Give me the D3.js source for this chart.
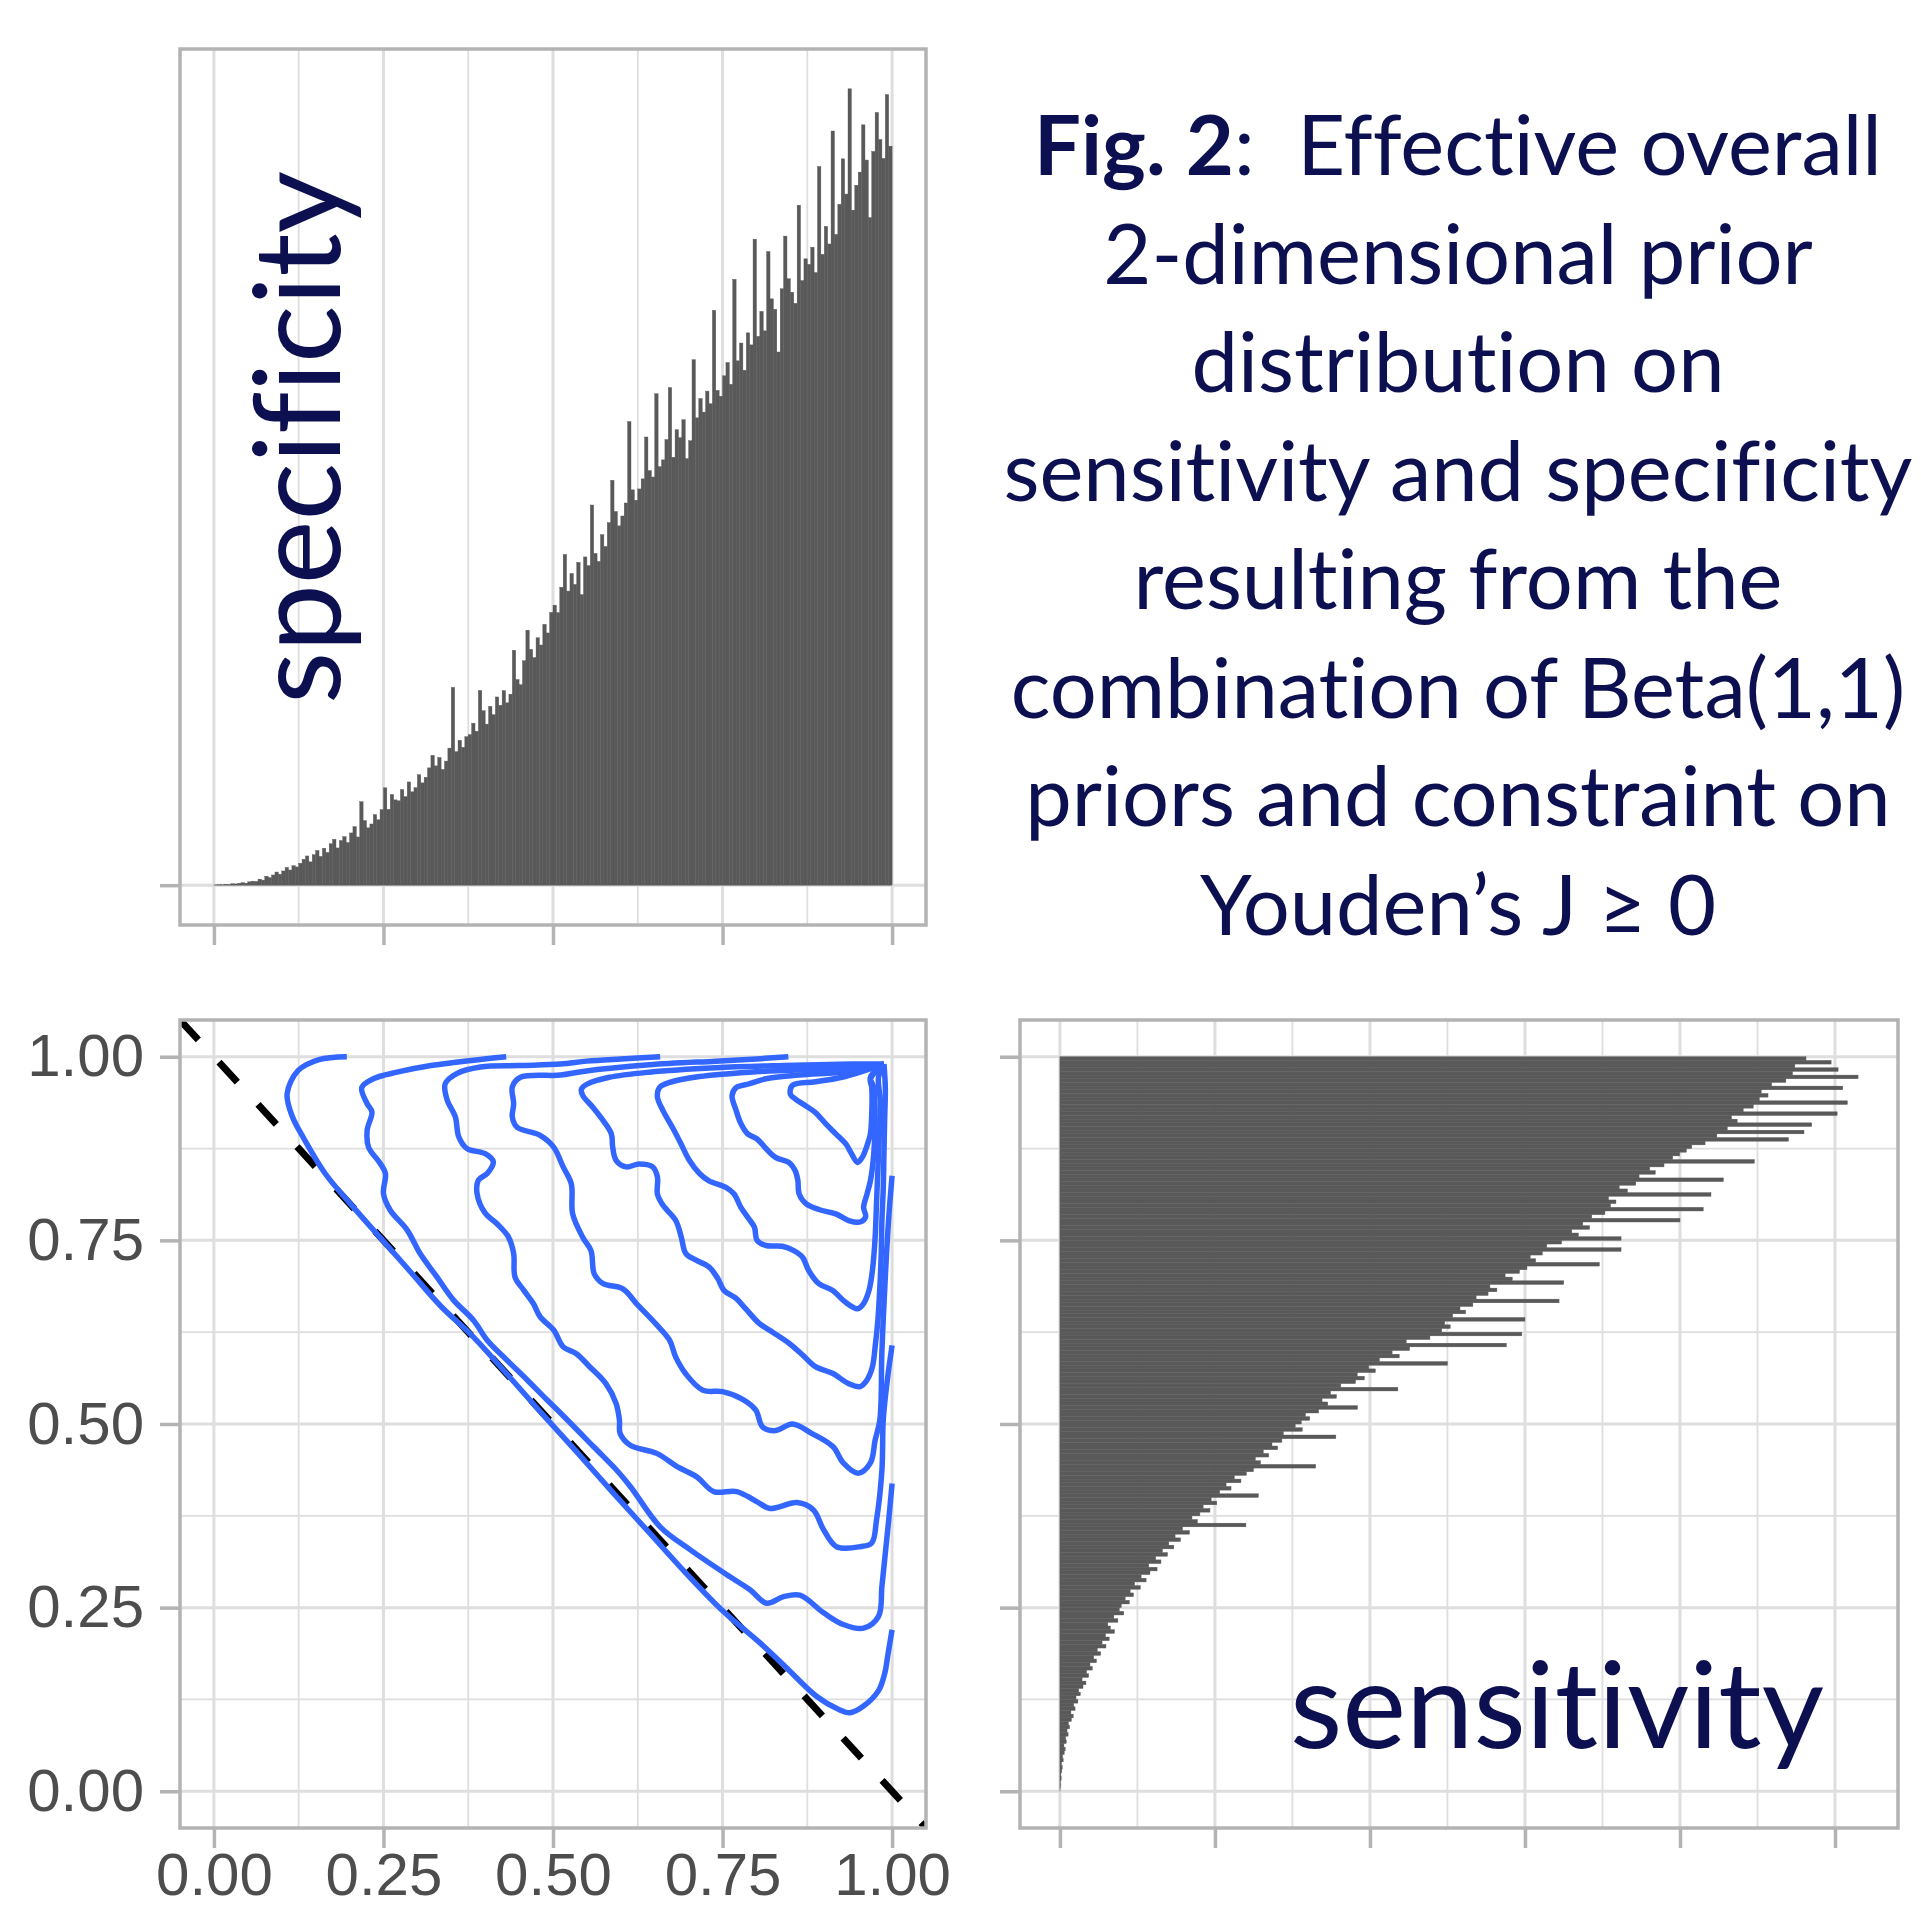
<!DOCTYPE html>
<html>
<head>
<meta charset="utf-8">
<script src="https://cdn.jsdelivr.net/npm/d3@7"></script>
<style>
  body { margin: 0; background: #fff; }
  text { font-variant-ligatures: none; font-feature-settings: "liga" 0, "clig" 0; }
  .axis path { display: none; }
  .axis line { stroke: #b3b3b3; stroke-width: 3.5px; }
  .axis text { font-family: "Liberation Sans", Arial, sans-serif; font-size: 60px; fill: #4d4d4d; }
</style>
</head>
<body>
<div id="chart"></div>
<script>
// unit-interval ticks shared by specificity / sensitivity
var unitTicks = [0, 0.25, 0.5, 0.75, 1];
var unitMinor = [0.125, 0.375, 0.625, 0.875];
var countTicks = [0, 100, 200, 300, 400, 500];
var countMinor = [50, 150, 250, 350, 450];

// histogram counts, 200 bins on [0,1]
var specCounts = [
  0.2, 0.3, 0.3, 0.6, 0.5, 0.9, 0.8, 1.2, 1.6, 1.3, 2.2, 2.6, 2.4, 3.9, 3.3, 5.8, 4.9, 6.6, 8.5, 7.1, 9.2, 11.5, 9.8, 12.6, 11.8,
  14.2, 16.8, 18.9, 15.1, 19.7, 22.4, 18.6, 23.9, 21.2, 26.8, 29.7, 24.1, 28.9, 31.4, 27.6, 33.8, 37.9, 31.2, 54, 41.8, 37.1, 39.6, 45.7, 42.3, 48.9,
  63, 49.1, 58.7, 55.2, 54.6, 61.9, 57.3, 66.8, 60.4, 63.1, 71.5, 66.2, 69.8, 75.9, 84, 77.2, 82.6, 74.9, 80.3, 88.7, 128, 86.4, 93.8, 89.2, 96.1,
  97.4, 104.8, 99.6, 126, 112.9, 104.2, 115.7, 110.3, 121.8, 116.4, 125.9, 118, 123.6, 152, 133.1, 129.7, 145.2, 165, 152.6, 147.3, 160.1, 155.4, 168.8, 163.2, 176.5,
  181.2, 176.4, 192.8, 214, 190.3, 201.7, 194.6, 208.9, 188, 212.4, 206.8, 246, 214.7, 209.5, 226.8, 219.2, 234.6, 262, 241.8, 232.5, 238.9, 247.3, 300, 255.8, 249.1,
  256.4, 262.9, 290, 268.3, 264.1, 318, 270.8, 275.2, 288.4, 322, 276.9, 294.7, 289.5, 301.2, 276, 287.6, 340, 302.4, 314.9, 306.1, 319.7, 311.5, 372, 320.2, 316.4,
  329.6, 338.2, 324.1, 392, 339.3, 350.8, 333.2, 357.4, 349.6, 418, 355.1, 371.3, 358.7, 410, 379.4, 372.6, 345, 385.9, 420, 392.4, 383.7, 376.5, 440, 391.2, 405.3,
  401.7, 412.8, 396.4, 465, 408.2, 426.3, 414.9, 488, 421.1, 440.6, 470, 447.2, 515.3, 436.8, 452.9, 461.4, 492, 469.2, 432, 474.8, 500, 482.5, 470.3, 511.6, 478.2
];
var sensCounts = [
  0.1, 0.4, 0.3, 0.8, 0.6, 1.1, 1.5, 1.0, 2.1, 1.7, 2.8, 3.4, 2.6, 4.1, 3.7, 5.3, 4.6, 6.2, 5.5, 7.4, 8.6, 7.1, 9.8, 8.9, 11.6,
  10.4, 13.2, 12.1, 14.9, 16.8, 14.3, 18.5, 17.2, 20.9, 19.4, 23.6, 21.8, 26.3, 24.1, 29.7, 27.2, 31.8, 29.4, 35.2, 32.6, 30.9, 37.4, 34.8, 41.2, 38.3,
  39.6, 44.8, 42.1, 47.5, 45.3, 51.9, 48.2, 55.6, 52.4, 58.1, 62.7, 57.3, 65.2, 61.8, 69.4, 66.1, 73.5, 70.2, 77.8, 74.3, 83.6, 79.1, 120, 88.7, 85.2,
  90.3, 96.8, 92.4, 101.2, 97.6, 128, 103.1, 110.4, 107.2, 116.8, 112.5, 120.3, 124.9, 165, 129.4, 126.1, 134.7, 131.2, 140.5, 136.8, 143.2, 178, 144.1, 156.3, 151.8,
  155.7, 161.2, 158.4, 166.9, 192, 172.8, 169.1, 178.4, 174.6, 218, 181.2, 190.7, 196.4, 191.8, 203.5, 199.2, 250, 206.1, 218.9, 214.3, 225.6, 288, 223.4, 238.7, 298,
  246.3, 251.8, 248.2, 300, 253.4, 261.7, 258.1, 266.4, 322, 268.5, 276.2, 281.9, 277.4, 325, 291.8, 287.2, 296.5, 301.3, 348, 306.9, 303.4, 311.2, 362, 314.1, 323.6,
  362, 334.5, 330.2, 341.7, 337.3, 400, 343.1, 351.6, 415, 355.2, 358.7, 353.9, 420, 366.1, 360.8, 371.5, 428, 373.6, 384.1, 380.5, 389.7, 448, 395.3, 399.8, 404.1,
  407.6, 416.2, 470, 423.8, 480, 430.5, 485, 436.9, 433.2, 501.4, 440.8, 447.3, 508, 451.2, 456.8, 452.4, 505, 459.1, 468.3, 514.9, 472.6, 502, 474.1, 497.5, 481.3
];

// 2d density contours, [specificity, sensitivity]
var contour1 = [[.196,1.0],[.155,.996],[.124,.981],[.108,.95],[.115,.920],[.133,.888],[.164,.841],[.200,.801],[.245,.754],[.290,.707],[.335,.660],[.381,.620],[.435,.565],[.480,.518],[.534,.463],[.588,.407],[.642,.352],[.696,.297],[.751,.245],[.804,.203],[.840,.172],[.889,.129],[.920,.112],[.938,.107],[.958,.116],[.980,.137],[.989,.160],[.994,.187],[1.0,.22]];
var contour2 = [[.431,1.0],[.38,.995],[.32,.988],[.27,.979],[.235,.970],[.218,.958],[.226,.936],[.233,.925],[.226,.900],[.228,.877],[.245,.855],[.253,.841],[.250,.814],[.260,.791],[.285,.764],[.304,.732],[.329,.700],[.353,.669],[.383,.641],[.403,.614],[.432,.587],[.462,.560],[.491,.533],[.511,.515],[.560,.469],[.594,.437],[.614,.415],[.658,.360],[.702,.329],[.761,.292],[.791,.274],[.815,.256],[.840,.265],[.864,.267],[.899,.243],[.928,.227],[.958,.222],[.980,.238],[.985,.279],[.990,.324],[.995,.369],[1.0,.419]];
var contour3 = [[.658,1.0],[.60,.997],[.55,.994],[.511,.990],[.45,.988],[.393,.986],[.358,.977],[.341,.963],[.344,.941],[.356,.918],[.361,.891],[.373,.875],[.400,.868],[.412,.857],[.403,.841],[.390,.832],[.388,.814],[.400,.787],[.417,.773],[.434,.755],[.442,.732],[.444,.700],[.457,.682],[.471,.664],[.481,.646],[.501,.628],[.515,.605],[.534,.596],[.554,.578],[.578,.555],[.593,.528],[.598,.505],[.599,.487],[.614,.471],[.653,.460],[.683,.442],[.712,.428],[.737,.408],[.771,.408],[.801,.394],[.820,.385],[.860,.393],[.884,.383],[.899,.356],[.918,.333],[.953,.333],[.970,.338],[.977,.369],[.985,.437],[.987,.506],[.993,.56],[1.0,.607]];
var contour4 = [[.847,1.0],[.80,.997],[.74,.994],[.642,.989],[.544,.980],[.511,.975],[.452,.972],[.440,.959],[.442,.936],[.440,.918],[.447,.904],[.481,.893],[.501,.877],[.515,.850],[.527,.827],[.529,.786],[.544,.754],[.556,.736],[.561,.704],[.574,.691],[.603,.684],[.623,.664],[.652,.636],[.672,.614],[.681,.591],[.696,.568],[.721,.546],[.750,.544],[.779,.534],[.799,.519],[.809,.496],[.828,.491],[.853,.500],[.882,.487],[.913,.469],[.928,.447],[.950,.433],[.968,.447],[.975,.478],[.982,.506],[.985,.60],[.99,.70],[.995,.78],[1.0,.838]];
var contour5 = [[.988,.99],[.94,.99],[.84,.988],[.74,.985],[.642,.979],[.583,.972],[.551,.963],[.542,.956],[.544,.947],[.559,.931],[.574,.913],[.586,.895],[.588,.877],[.593,.859],[.608,.850],[.627,.854],[.647,.850],[.654,.836],[.654,.813],[.662,.798],[.681,.777],[.689,.755],[.696,.732],[.711,.723],[.730,.714],[.743,.698],[.752,.682],[.770,.671],[.784,.657],[.804,.637],[.824,.625],[.848,.610],[.868,.594],[.887,.578],[.912,.569],[.936,.555],[.953,.551],[.963,.560],[.971,.578],[.975,.605],[.979,.641],[.982,.687],[.984,.732],[.985,.777],[.987,.822],[.988,.868],[.989,.913],[.990,.958],[.988,.99]];
var contour6 = [[.988,.99],[.966,.986],[.887,.983],[.789,.979],[.716,.973],[.672,.965],[.657,.958],[.654,.945],[.662,.927],[.676,.904],[.689,.881],[.701,.859],[.716,.841],[.730,.831],[.755,.822],[.767,.813],[.777,.795],[.789,.779],[.797,.768],[.801,.750],[.814,.743],[.838,.742],[.855,.736],[.868,.727],[.877,.709],[.892,.691],[.912,.682],[.931,.666],[.949,.657],[.958,.664],[.966,.682],[.971,.709],[.975,.754],[.977,.800],[.979,.845],[.981,.890],[.983,.936],[.980,.972],[.988,.99]];
var contour7 = [[.988,.99],[.936,.980],[.863,.975],[.814,.970],[.789,.963],[.770,.958],[.764,.947],[.770,.927],[.777,.909],[.787,.895],[.801,.888],[.814,.875],[.828,.863],[.848,.856],[.857,.845],[.861,.832],[.863,.813],[.873,.800],[.892,.792],[.917,.786],[.936,.777],[.953,.775],[.961,.782],[.958,.795],[.963,.813],[.968,.831],[.973,.868],[.975,.913],[.973,.958],[.968,.972],[.988,.99]];
var contour8 = [[.988,.99],[.926,.972],[.887,.966],[.853,.961],[.850,.949],[.858,.942],[.873,.933],[.887,.924],[.902,.909],[.917,.895],[.932,.881],[.939,.870],[.949,.856],[.956,.863],[.963,.879],[.968,.895],[.970,.922],[.970,.958],[.968,.970],[.988,.99]];
var contours = [contour1, contour2, contour3, contour4, contour5, contour6, contour7, contour8];

// reference line sens = 1 - spec
var refLine = [[-0.05, 1.05], [1.05, -0.05]];

var titleBold = "Fig. 2";
var titleLines = [":  Effective overall", "2-dimensional prior", "distribution on", "sensitivity and specificity",
  "resulting from the", "combination of Beta(1,1)", "priors and constraint on", "Youden\u2019s J \u2265 0"];

var W = 1921, H = 1908;
var navy = "#0c0f50";
var svg = d3.select("#chart").append("svg").attr("width", W).attr("height", H);
svg.append("rect").attr("width", W).attr("height", H).attr("fill", "#fff");

// panel boxes
var colL = [180, 926], colR = [1020, 1898];
var rowT = [49, 925], rowB = [1020, 1828];

var binW = 1 / specCounts.length;
var x = d3.scaleLinear().domain([-0.05, 1.05]).range(colL);
var y = d3.scaleLinear().domain([-0.05, 1.05]).range([rowB[1], rowB[0]]);
var specMax = d3.max(specCounts);
var yCount = d3.scaleLinear().domain([-0.05 * specMax, 1.05 * specMax]).range([rowT[1], rowT[0]]);
var sensMax = d3.max(sensCounts);
var xCount = d3.scaleLinear().domain([-0.05 * sensMax, 1.05 * sensMax]).range(colR);

function panel(cols, rows, vMajor, vMinor, hMajor, hMinor, xs, ys, id) {
  var g = svg.append("g");
  g.append("rect").attr("x", cols[0]).attr("y", rows[0]).attr("width", cols[1] - cols[0]).attr("height", rows[1] - rows[0]).attr("fill", "#fff");
  svg.append("clipPath").attr("id", id).append("rect")
    .attr("x", cols[0]).attr("y", rows[0]).attr("width", cols[1] - cols[0]).attr("height", rows[1] - rows[0]);
  function vlines(vals, w) {
    g.selectAll(null).data(vals).enter().append("line")
      .attr("x1", function (d) { return xs(d); }).attr("x2", function (d) { return xs(d); })
      .attr("y1", rows[0]).attr("y2", rows[1]).attr("stroke", "#dedede").attr("stroke-width", w);
  }
  function hlines(vals, w) {
    g.selectAll(null).data(vals).enter().append("line")
      .attr("y1", function (d) { return ys(d); }).attr("y2", function (d) { return ys(d); })
      .attr("x1", cols[0]).attr("x2", cols[1]).attr("stroke", "#dedede").attr("stroke-width", w);
  }
  vlines(vMinor, 1.8); hlines(hMinor, 1.8);
  vlines(vMajor, 3); hlines(hMajor, 3);
  return g.append("g").attr("clip-path", "url(#" + id + ")");
}
function border(cols, rows) {
  svg.append("rect").attr("x", cols[0]).attr("y", rows[0]).attr("width", cols[1] - cols[0]).attr("height", rows[1] - rows[0])
    .attr("fill", "none").attr("stroke", "#b3b3b3").attr("stroke-width", 3.5);
}

// top-left: specificity histogram
var gTL = panel(colL, rowT, unitTicks, unitMinor, [0], [], x, yCount, "clipTL");
gTL.selectAll("rect.bar").data(specCounts).enter().append("rect").attr("class", "bar")
  .attr("x", function (d, i) { return x(i * binW); })
  .attr("width", function (d, i) { return x((i + 1) * binW) - x(i * binW); })
  .attr("y", function (d) { return yCount(d); })
  .attr("height", function (d) { return yCount(0) - yCount(d); })
  .attr("fill", "#595959").attr("stroke", "#595959").attr("stroke-width", 0.4);
border(colL, rowT);

// bottom-left: contours
var gBL = panel(colL, rowB, unitTicks, unitMinor, unitTicks, unitMinor, x, y, "clipBL");
var line = d3.line().x(function (d) { return x(d[0]); }).y(function (d) { return y(d[1]); });
gBL.append("path").attr("d", line(refLine)).attr("fill", "none").attr("stroke", "#000")
  .attr("stroke-width", 7).attr("stroke-dasharray", "27,30.5");
var cline = d3.line().x(function (d) { return x(d[0]); }).y(function (d) { return y(d[1]); }).curve(d3.curveCatmullRom.alpha(0.5));
gBL.selectAll("path.contour").data(contours).enter().append("path").attr("class", "contour")
  .attr("d", cline).attr("fill", "none").attr("stroke", "#3366ff").attr("stroke-width", 5.5)
  .attr("stroke-linejoin", "round");
border(colL, rowB);

// bottom-right: sensitivity histogram
var gBR = panel(colR, rowB, countTicks, countMinor, unitTicks, unitMinor, xCount, y, "clipBR");
gBR.selectAll("rect.bar").data(sensCounts).enter().append("rect").attr("class", "bar")
  .attr("y", function (d, i) { return y((i + 1) * binW); })
  .attr("height", function (d, i) { return y(i * binW) - y((i + 1) * binW); })
  .attr("x", xCount(0))
  .attr("width", function (d) { return xCount(d) - xCount(0); })
  .attr("fill", "#595959").attr("stroke", "#595959").attr("stroke-width", 0.4);
border(colR, rowB);

// axes
var fmt = d3.format(".2f");
svg.append("g").attr("class", "axis").attr("transform", "translate(" + colL[0] + ",0)")
  .call(d3.axisLeft(yCount).tickValues([0]).tickSize(20).tickFormat(""));
svg.append("g").attr("class", "axis").attr("transform", "translate(0," + rowT[1] + ")")
  .call(d3.axisBottom(x).tickValues(unitTicks).tickSize(20).tickFormat(""));
svg.append("g").attr("class", "axis").attr("transform", "translate(" + colL[0] + ",0)")
  .call(d3.axisLeft(y).tickValues(unitTicks).tickSize(20).tickPadding(16).tickFormat(fmt));
svg.append("g").attr("class", "axis").attr("transform", "translate(0," + rowB[1] + ")")
  .call(d3.axisBottom(x).tickValues(unitTicks).tickSize(20).tickPadding(4).tickFormat(fmt));
svg.append("g").attr("class", "axis").attr("transform", "translate(" + colR[0] + ",0)")
  .call(d3.axisLeft(y).tickValues(unitTicks).tickSize(20).tickFormat(""));
svg.append("g").attr("class", "axis").attr("transform", "translate(0," + rowB[1] + ")")
  .call(d3.axisBottom(xCount).tickValues(countTicks).tickSize(20).tickFormat(""));

// text sizing helper
function fitSize(str, target, weight) {
  var t = svg.append("text").attr("font-family", "Lato").attr("font-weight", weight || 400).attr("font-size", 100).text(str);
  var w = t.node().getComputedTextLength();
  t.remove();
  return 100 * target / w;
}

var titleSize = fitSize(titleLines[3], 909);
var title = svg.append("text").attr("font-family", "Lato").attr("font-size", titleSize)
  .attr("fill", navy).attr("text-anchor", "middle").style("white-space", "pre");
titleLines.forEach(function (s, i) {
  var t = title.append("tspan").attr("x", 1458).attr("y", 175 + i * 108.5);
  if (i === 0) {
    t.append("tspan").attr("font-weight", 700).text(titleBold);
    t.append("tspan").text(s);
  } else {
    t.text(s);
  }
});

var labelSize = fitSize("specificity", 533);
svg.append("text").attr("font-family", "Lato").attr("font-size", labelSize).attr("fill", navy)
  .attr("transform", "translate(340,704) rotate(-90)").text("specificity");
svg.append("text").attr("font-family", "Lato").attr("font-size", fitSize("sensitivity", 534)).attr("fill", navy)
  .attr("x", 1290).attr("y", 1748).text("sensitivity");
</script>
</body>
</html>
